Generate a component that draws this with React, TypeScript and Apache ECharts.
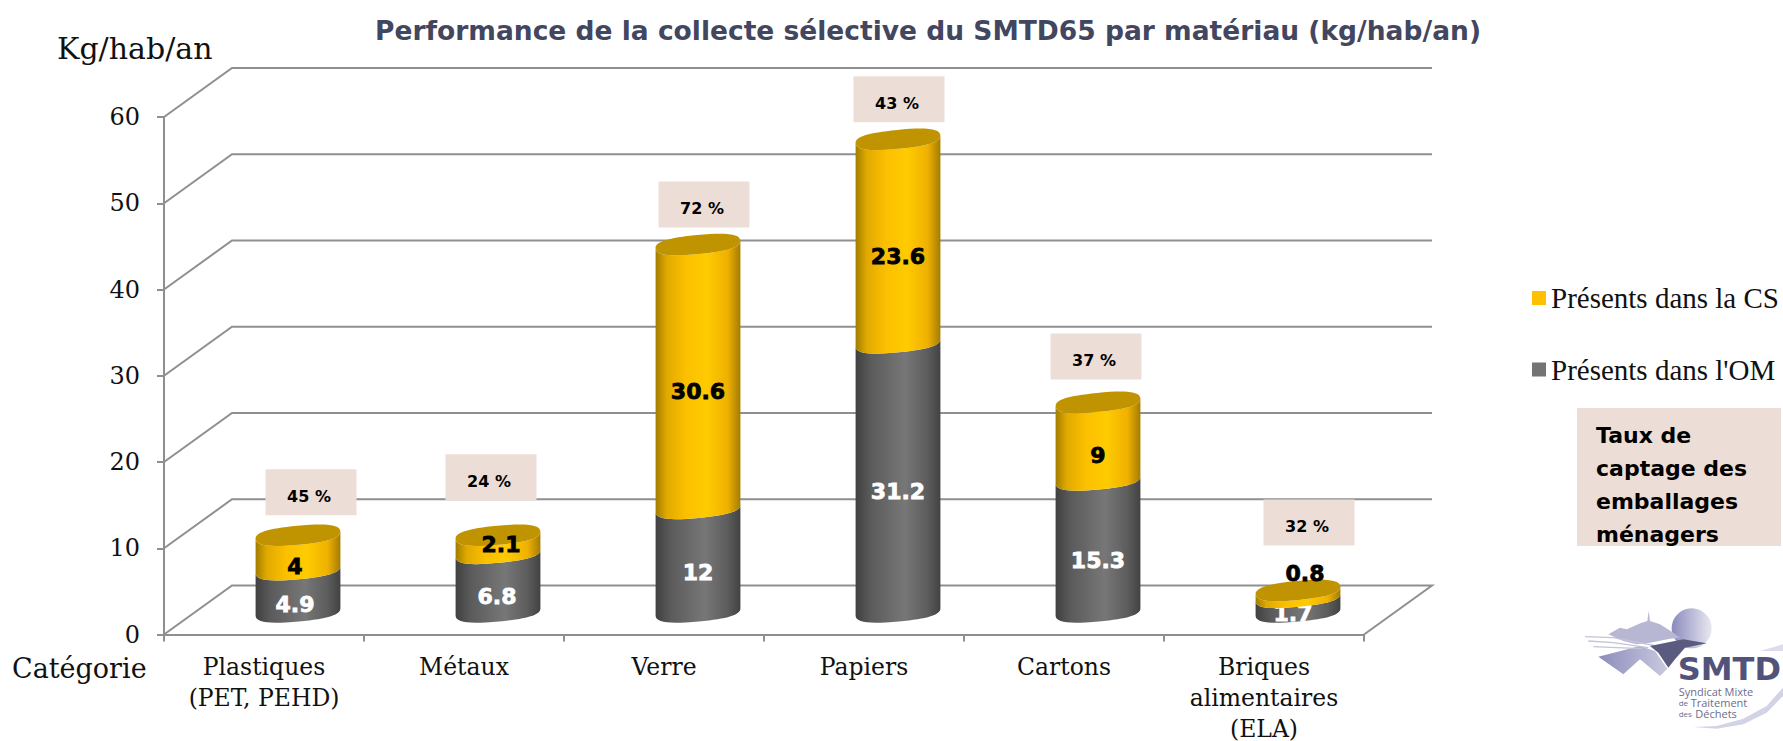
import React, { useEffect, useRef } from "react";
import * as echarts from "echarts";

const categories = ["Plastiques\n(PET, PEHD)", "Métaux", "Verre", "Papiers", "Cartons", "Briques\nalimentaires\n(ELA)"];
const omValues = [4.9, 6.8, 12, 31.2, 15.3, 1.7];
const csValues = [4, 2.1, 30.6, 23.6, 9, 0.8];
const captureRates = [45, 24, 72, 43, 37, 32];
const yTicks = [0, 10, 20, 30, 40, 50, 60];
const omName = "Présents dans l'OM";
const csName = "Présents dans la CS";

// 3D look (pixels)
const DEPTH_X = 68;
const DEPTH_Y = 49;
const BAR_DX = 34;
const BAR_DY = 22.5;
const RX = 42.6;
const RY = 9.5;
const TILT = 5.5;
const KAPPA = 0.7;
const omLabelDy = [14, 14, 12, 14, 14, 9];
const omLabelDx = [-3, -1, 0, 0, 0, -5];
const csLabelDy = [14, 0, 15, 15, 14, -20];
const csLabelDx = [-3, 3, 0, 0, 0, 7];
const boxDx = [13, -7, 6, 1, -2, 11];
const boxLift = [43, 58, 40, 40, 46, 68];
const BOX_W = 91;
const BOX_H = 46;

const GRID_COLOR = "#8f8f8f";
const BOX_COLOR = "#ecded6";
const SERIF = "'DejaVu Serif', serif";
const SANS = "'DejaVu Sans', sans-serif";

const goldGrad = () =>
  new echarts.graphic.LinearGradient(0, 0, 1, 0, [
    { offset: 0, color: "#a27c00" },
    { offset: 0.13, color: "#e0a900" },
    { offset: 0.35, color: "#fbbf00" },
    { offset: 0.6, color: "#ffcb00" },
    { offset: 0.85, color: "#efb100" },
    { offset: 1, color: "#a37c00" },
  ]);
const grayGrad = () =>
  new echarts.graphic.LinearGradient(0, 0, 1, 0, [
    { offset: 0, color: "#404040" },
    { offset: 0.18, color: "#5b5b5b" },
    { offset: 0.58, color: "#777777" },
    { offset: 0.85, color: "#5c5c5c" },
    { offset: 1, color: "#424242" },
  ]);

const tiltRad = (TILT * Math.PI) / 180;
const C = Math.cos(tiltRad);
const S = Math.sin(tiltRad);
const P = (cx: number, cy: number, u: number, v: number) => `${cx + u * C + v * S} ${cy - u * S + v * C}`;
// half-outline of the slanted ellipse: from the left end to the right end (side = 1 lower, -1 upper)
const arcLR = (cx: number, cy: number, side: number) => {
  const a = RX;
  const b = RY * side;
  return `C ${P(cx, cy, -a, KAPPA * b)} ${P(cx, cy, -KAPPA * a, b)} ${P(cx, cy, 0, b)} C ${P(cx, cy, KAPPA * a, b)} ${P(cx, cy, a, KAPPA * b)} ${P(cx, cy, a, 0)}`;
};
const arcRL = (cx: number, cy: number, side: number) => {
  const a = RX;
  const b = RY * side;
  return `C ${P(cx, cy, a, KAPPA * b)} ${P(cx, cy, KAPPA * a, b)} ${P(cx, cy, 0, b)} C ${P(cx, cy, -KAPPA * a, b)} ${P(cx, cy, -a, KAPPA * b)} ${P(cx, cy, -a, 0)}`;
};

const cylinderItem = (fill: () => any, labelColor: string, dxs: number[], dys: number[], cap: boolean) =>
  (_: any, api: any) => {
    const i = api.value(0);
    const bottom = api.coord([i, api.value(1)]);
    const top = api.coord([i, api.value(2)]);
    const cx = bottom[0] + BAR_DX;
    const by = bottom[1] - BAR_DY;
    const ty = top[1] - BAR_DY;
    const body = `M ${P(cx, by, -RX, 0)} ${arcLR(cx, by, 1)} L ${P(cx, ty, RX, 0)} ${arcRL(cx, ty, 1)} Z`;
    const children: any[] = [{ type: "path", shape: { pathData: body }, style: { fill: fill() } }];
    if (cap) {
      children.push({
        type: "path",
        shape: { pathData: `M ${P(cx, ty, -RX, 0)} ${arcLR(cx, ty, 1)} ${arcRL(cx, ty, -1)} Z` },
        style: { fill: "#c09300" },
      });
    }
    children.push({
      type: "text",
      x: cx + dxs[i],
      y: (by + ty) / 2 + dys[i],
      style: {
        text: String(api.value(3)),
        fill: labelColor,
        stroke: labelColor,
        lineWidth: 0.8,
        fontFamily: SANS,
        fontWeight: "bold",
        fontSize: 22,
        align: "center",
        verticalAlign: "middle",
      },
    });
    return { type: "group", children };
  };

const logoGraphics = () => {
  const X = (v: number) => 1570 + v / 3;
  const Y = (v: number) => 596 + v / 3;
  const pts = (list: number[][]) => list.map(([a, b]) => [X(a), Y(b)]);
  const lilac = new echarts.graphic.LinearGradient(0, 0, 1, 0, [
    { offset: 0, color: "#8c8cbc" },
    { offset: 1, color: "#c9c9df" },
  ]);
  const sun = new echarts.graphic.LinearGradient(0, 0, 1, 0, [
    { offset: 0, color: "#8b8bbd" },
    { offset: 1, color: "#e8e8f2" },
  ]);
  const line = (list: number[][], color: string) => ({
    type: "polyline",
    shape: { points: pts(list) },
    style: { stroke: color, lineWidth: 1.4, fill: "none" },
  });
  const txt = (x: number, y: number, text: string, fontSize: number, color: string, weight = "normal", family = "'Open Sans', sans-serif") => ({
    type: "text",
    x: X(x),
    y: Y(y),
    style: { text, fontSize, fill: color, fontWeight: weight, fontFamily: family, verticalAlign: "middle", align: "left" },
  });
  return [
    { type: "circle", shape: { cx: X(365), cy: Y(97), r: 20 }, style: { fill: sun } },
    {
      type: "polygon",
      shape: { points: pts([[115, 115], [150, 95], [170, 100], [215, 80], [232, 75], [236, 45], [240, 75], [270, 85], [310, 110], [330, 125], [300, 128], [240, 140], [200, 145], [160, 135]]) },
      style: { fill: "#b7b7d3" },
    },
    {
      type: "polygon",
      shape: { points: pts([[85, 182], [210, 150], [255, 165], [292, 218], [270, 240], [210, 190], [160, 235]]) },
      style: { fill: lilac },
    },
    line([[45, 122], [130, 125], [260, 150]], "#c3c3da"),
    line([[55, 135], [130, 140], [235, 155]], "#c3c3da"),
    line([[70, 152], [140, 155], [215, 158]], "#c3c3da"),
    {
      type: "polygon",
      shape: { points: pts([[240, 150], [340, 130], [410, 142], [345, 155], [315, 190], [295, 215], [265, 170]]) },
      style: { fill: "#5b5b80" },
    },
    {
      type: "polygon",
      shape: { points: pts([[639, 145], [570, 165], [639, 165]]) },
      style: { fill: "#dcdcec" },
    },
    {
      type: "polygon",
      shape: { points: pts([[370, 393], [440, 398], [520, 385], [590, 350], [639, 300], [639, 275], [590, 330], [520, 368], [440, 390]]) },
      style: { fill: "#d3d3e6" },
    },
    txt(323, 218, "SMTD", 32, "#52537a", "bold", SANS),
    txt(326, 287, "Syndicat Mixte", 11, "#6c6c8c"),
    txt(326, 320, "de", 8, "#6c6c8c"),
    txt(362, 320, "Traitement", 11, "#6c6c8c"),
    txt(326, 353, "des", 8, "#6c6c8c"),
    txt(376, 353, "Déchets", 11, "#6c6c8c"),
  ];
};

export default function App() {
  const ref = useRef<HTMLDivElement>(null);
  useEffect(() => {
    const chart = echarts.init(ref.current!, undefined, { renderer: "svg" });
    const omData = omValues.map((v, i) => [i, 0, v, v]);
    const csData = csValues.map((v, i) => [i, omValues[i], omValues[i] + v, v]);
    const boxData = captureRates.map((r, i) => [i, omValues[i] + csValues[i], r]);
    chart.setOption({
      animation: false,
      backgroundColor: "#ffffff",
      title: {
        text: "Performance de la collecte sélective du SMTD65 par matériau (kg/hab/an)",
        left: 370,
        top: 12,
        textStyle: { fontFamily: SANS, fontWeight: "bold", fontSize: 26.5, color: "#43465f" },
      },
      legend: {
        orient: "vertical",
        left: 1527,
        top: 278,
        itemWidth: 14,
        itemHeight: 14,
        itemGap: 41.5,
        selectedMode: false,
        data: [
          { name: csName, icon: "rect" },
          { name: omName, icon: "rect" },
        ],
        textStyle: { fontFamily: "'Liberation Serif', serif", fontSize: 29, color: "#111111", lineHeight: 30 },
      },
      grid: { left: 164, top: 117, width: 1200, height: 517.5, outerBoundsMode: "none" },
      xAxis: {
        type: "category",
        data: categories,
        axisLine: { lineStyle: { color: GRID_COLOR, width: 2 } },
        axisTick: { show: true, length: 7, alignWithLabel: false, lineStyle: { color: GRID_COLOR, width: 2 } },
        axisLabel: { fontFamily: SERIF, fontSize: 23.5, color: "#111111", lineHeight: 31, margin: 17, interval: 0 },
        splitLine: { show: false },
      },
      yAxis: {
        type: "value",
        min: 0,
        max: 60,
        interval: 10,
        axisLine: { show: true, lineStyle: { color: GRID_COLOR, width: 2 } },
        axisTick: { show: true, length: 7, lineStyle: { color: GRID_COLOR, width: 2 } },
        axisLabel: { fontFamily: SERIF, fontSize: 24, color: "#111111", margin: 24, padding: [5, 0, 0, 0] },
        splitLine: { show: false },
      },
      series: [
        {
          type: "custom",
          silent: true,
          z: 1,
          data: yTicks.map((v) => [0, v]),
          renderItem: (_: any, api: any) => {
            const p = api.coord([0, api.value(1)]);
            const band = api.size([1, 0])[0];
            const x0 = p[0] - band / 2;
            const xR = x0 + band * categories.length;
            const y = p[1];
            const points = [[x0, y], [x0 + DEPTH_X, y - DEPTH_Y], [xR + DEPTH_X, y - DEPTH_Y]];
            if (api.value(1) === 0) points.push([xR, y]);
            return {
              type: "polyline",
              shape: { points },
              style: { stroke: GRID_COLOR, lineWidth: 2, fill: "none" },
            };
          },
        },
        {
          name: omName,
          type: "custom",
          z: 2,
          itemStyle: { color: "#747474" },
          data: omData,
          renderItem: cylinderItem(grayGrad, "#ffffff", omLabelDx, omLabelDy, false),
        },
        {
          name: csName,
          type: "custom",
          z: 3,
          itemStyle: { color: "#ffc000" },
          data: csData,
          renderItem: cylinderItem(goldGrad, "#000000", csLabelDx, csLabelDy, true),
        },
        {
          type: "custom",
          z: 4,
          silent: true,
          data: boxData,
          renderItem: (_: any, api: any) => {
            const i = api.value(0);
            const p = api.coord([i, api.value(1)]);
            const cx = p[0] + BAR_DX + boxDx[i];
            const cy = p[1] - BAR_DY - boxLift[i];
            return {
              type: "group",
              children: [
                { type: "rect", shape: { x: cx - BOX_W / 2, y: cy - BOX_H / 2, width: BOX_W, height: BOX_H }, style: { fill: BOX_COLOR } },
                {
                  type: "text",
                  x: cx - 2,
                  y: cy + 4,
                  style: { text: `${api.value(2)} %`, fill: "#000000", fontFamily: SANS, fontWeight: "bold", fontSize: 16, align: "center", verticalAlign: "middle" },
                },
              ],
            };
          },
        },
      ],
      graphic: [
        { type: "text", x: 57, y: 48, style: { text: "Kg/hab/an", fontFamily: SERIF, fontSize: 30, fill: "#111111", verticalAlign: "middle" } },
        { type: "text", x: 12, y: 668, style: { text: "Catégorie", fontFamily: SERIF, fontSize: 27, fill: "#111111", verticalAlign: "middle" } },
        { type: "rect", shape: { x: 1577, y: 408, width: 204, height: 138 }, style: { fill: BOX_COLOR } },
        {
          type: "text",
          x: 1596,
          y: 419,
          style: { text: "Taux de\ncaptage des\nemballages\nménagers", fontFamily: SANS, fontWeight: "bold", fontSize: 22, lineHeight: 33, fill: "#000000" },
        },
        ...logoGraphics(),
      ],
    });
    return () => chart.dispose();
  }, []);
  return <div ref={ref} style={{ position: "absolute", left: 0, top: 0, width: 1783, height: 741 }} />;
}
